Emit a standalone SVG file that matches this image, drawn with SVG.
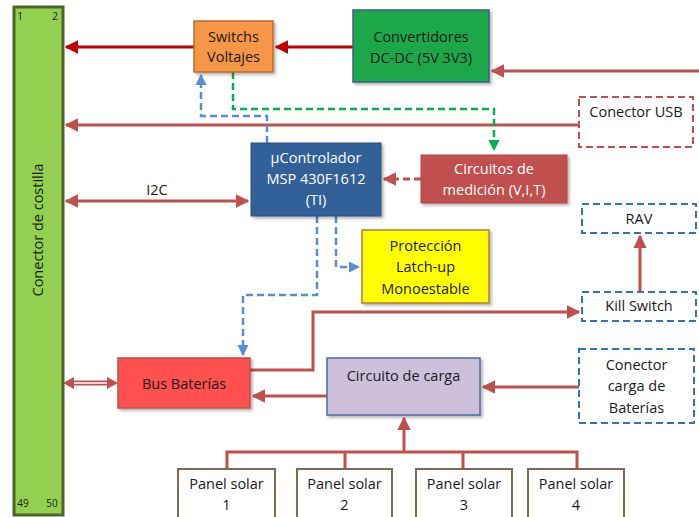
<svg xmlns="http://www.w3.org/2000/svg" width="699" height="517" viewBox="0 0 699 517">
<style>
text{font-family:"Open Sans","Liberation Sans",sans-serif;font-size:14.5px;fill:#1a1a1a;text-anchor:middle}
.w{fill:#ffffff}
.r{fill:none;stroke:#c0504d;stroke-width:3}
.dr{fill:none;stroke:#c00000;stroke-width:3}
.bd{fill:none;stroke:#558ed5;stroke-width:2.5;stroke-dasharray:7,4}
.gd{fill:none;stroke:#00b050;stroke-width:2.5;stroke-dasharray:7,4}
.rd{fill:none;stroke:#c0504d;stroke-width:3;stroke-dasharray:7,4}
.dbox{fill:#fff;stroke-width:2;stroke-dasharray:7,4}
.panel{fill:#fff;stroke:#7f6a50;stroke-width:2}
.sm{font-size:10px}
</style>
<defs>
<marker id="ar" viewBox="0 0 10 10" refX="9" refY="5" markerWidth="4.5" markerHeight="4.5" orient="auto-start-reverse" markerUnits="strokeWidth"><path d="M0,0L10,5L0,10z" fill="#c0504d"/></marker>
<marker id="adr" viewBox="0 0 10 10" refX="9" refY="5" markerWidth="4.5" markerHeight="4.5" orient="auto-start-reverse" markerUnits="strokeWidth"><path d="M0,0L10,5L0,10z" fill="#c00000"/></marker>
<marker id="ab" viewBox="0 0 10 10" refX="9" refY="5" markerWidth="4.5" markerHeight="4.5" orient="auto" markerUnits="strokeWidth"><path d="M0,0L10,5L0,10z" fill="#558ed5"/></marker>
<marker id="ag" viewBox="0 0 10 10" refX="9" refY="5" markerWidth="4.5" markerHeight="4.5" orient="auto" markerUnits="strokeWidth"><path d="M0,0L10,5L0,10z" fill="#00b050"/></marker>
<filter id="sh" x="-10%" y="-10%" width="130%" height="140%"><feDropShadow dx="2" dy="2" stdDeviation="1.5" flood-color="#000" flood-opacity="0.3"/></filter>
</defs>

<g id="connectors">
<path class="dr" d="M194,47H66" marker-end="url(#adr)"/>
<path class="dr" d="M353,47H276" marker-end="url(#adr)"/>
<path class="r" d="M699,71H492" marker-end="url(#ar)"/>
<path class="r" d="M579,125H66" marker-end="url(#ar)"/>
<path class="bd" d="M267,143V116H201V75" marker-end="url(#ab)"/>
<path class="gd" d="M233,72V109H494V150" marker-end="url(#ag)"/>
<path class="r" d="M66,201H248" marker-start="url(#ar)" marker-end="url(#ar)"/>
<path class="rd" d="M421,179H384" marker-end="url(#ar)"/>
<path class="bd" d="M336,216V267H359" marker-end="url(#ab)"/>
<path class="bd" d="M317,216V295H243V355" marker-end="url(#ab)"/>
<path class="r" d="M250,370H313V312H579" marker-end="url(#ar)"/>
<path class="r" d="M640,292V236" marker-end="url(#ar)"/>
<path fill="none" stroke="#c0504d" stroke-width="5" d="M70,383H111"/>
<path fill="none" stroke="#fff" stroke-width="1.5" d="M72,383H109"/>
<path d="M63,383L74,377V389z M118,383L107,377V389z" fill="#c0504d"/>
<path class="r" d="M327,396H253" marker-end="url(#ar)"/>
<path class="r" d="M579,387H483" marker-end="url(#ar)"/>
<path class="r" d="M227,469V452H577V469 M345,452V469 M463,452V469"/>
<path class="r" d="M404,452V418" marker-end="url(#ar)"/>
</g>

<g id="costilla">
<rect x="14" y="7" width="49" height="508" fill="#92d050" stroke="#4f6228" stroke-width="3"/>
<text class="sm" x="20" y="20">1</text>
<text class="sm" x="55" y="20">2</text>
<text class="sm" x="23" y="507">49</text>
<text class="sm" x="52" y="507">50</text>
<text transform="translate(43,230) rotate(-90)" font-size="15">Conector de  costilla</text>
</g>

<g id="switchs">
<rect x="194" y="21" width="79" height="51" fill="#f79646" stroke="#b66d31" stroke-width="1.5" filter="url(#sh)"/>
<text x="233.5" y="42">Switchs</text>
<text x="233.5" y="62">Voltajes</text>
</g>

<g id="convertidores">
<rect x="353" y="10" width="136" height="72" fill="#1aa84a" stroke="#3d5f86" stroke-width="1.5" filter="url(#sh)"/>
<text x="421" y="42">Convertidores</text>
<text x="421" y="63">DC-DC (5V 3V3)</text>
</g>

<g id="usb">
<rect class="dbox" x="579" y="97" width="114" height="50" stroke="#c0504d"/>
<text x="636" y="117">Conector USB</text>
</g>

<g id="ucontrolador">
<rect x="251" y="143" width="130" height="73" fill="#336199" stroke="#2c4f7c" stroke-width="1" filter="url(#sh)"/>
<text class="w" x="316" y="163">μControlador</text>
<text class="w" x="316" y="184">MSP 430F1612</text>
<text class="w" x="316" y="205">(TI)</text>
</g>
<text x="157" y="195">I2C</text>

<g id="medicion">
<rect x="421" y="155" width="146" height="48" fill="#c0504d" stroke="#b84541" stroke-width="1" filter="url(#sh)"/>
<text class="w" x="494" y="174">Circuitos de</text>
<text class="w" x="494" y="195">medición (V,I,T)</text>
</g>

<g id="rav">
<rect class="dbox" x="582" y="204" width="114" height="29" stroke="#2e75b6"/>
<text x="639" y="224">RAV</text>
</g>

<g id="killswitch">
<rect class="dbox" x="582" y="292" width="114" height="29" stroke="#2e75b6"/>
<text x="639" y="311">Kill Switch</text>
</g>

<g id="proteccion">
<rect x="362" y="230" width="127" height="73" fill="#ffff00" stroke="#c0772c" stroke-width="1.5" filter="url(#sh)"/>
<text x="425.5" y="251">Protección</text>
<text x="425.5" y="272">Latch-up</text>
<text x="425.5" y="294">Monoestable</text>
</g>

<g id="busbaterias">
<rect x="118" y="358" width="132" height="50" fill="#ff5050" stroke="#c0504d" stroke-width="1.5" filter="url(#sh)"/>
<text x="184" y="389">Bus Baterías</text>
</g>

<g id="carga">
<rect x="327" y="358" width="153" height="57" fill="#ccc0da" stroke="#4f6aa0" stroke-width="1.5" filter="url(#sh)"/>
<text x="403.5" y="381">Circuito de carga</text>
</g>

<g id="conectorcarga">
<rect class="dbox" x="579" y="349" width="115" height="74" stroke="#2e75b6"/>
<text x="636.5" y="370">Conector</text>
<text x="636.5" y="391">carga de</text>
<text x="636.5" y="413">Baterías</text>
</g>

<g id="panel1"><rect class="panel" x="178" y="469" width="97" height="52"/><text x="226.5" y="489">Panel solar</text><text x="226.5" y="510">1</text></g>
<g id="panel2"><rect class="panel" x="297" y="469" width="95" height="52"/><text x="344.5" y="489">Panel solar</text><text x="344.5" y="510">2</text></g>
<g id="panel3"><rect class="panel" x="416" y="469" width="96" height="52"/><text x="464" y="489">Panel solar</text><text x="464" y="510">3</text></g>
<g id="panel4"><rect class="panel" x="528" y="469" width="96" height="52"/><text x="576" y="489">Panel solar</text><text x="576" y="510">4</text></g>
</svg>
